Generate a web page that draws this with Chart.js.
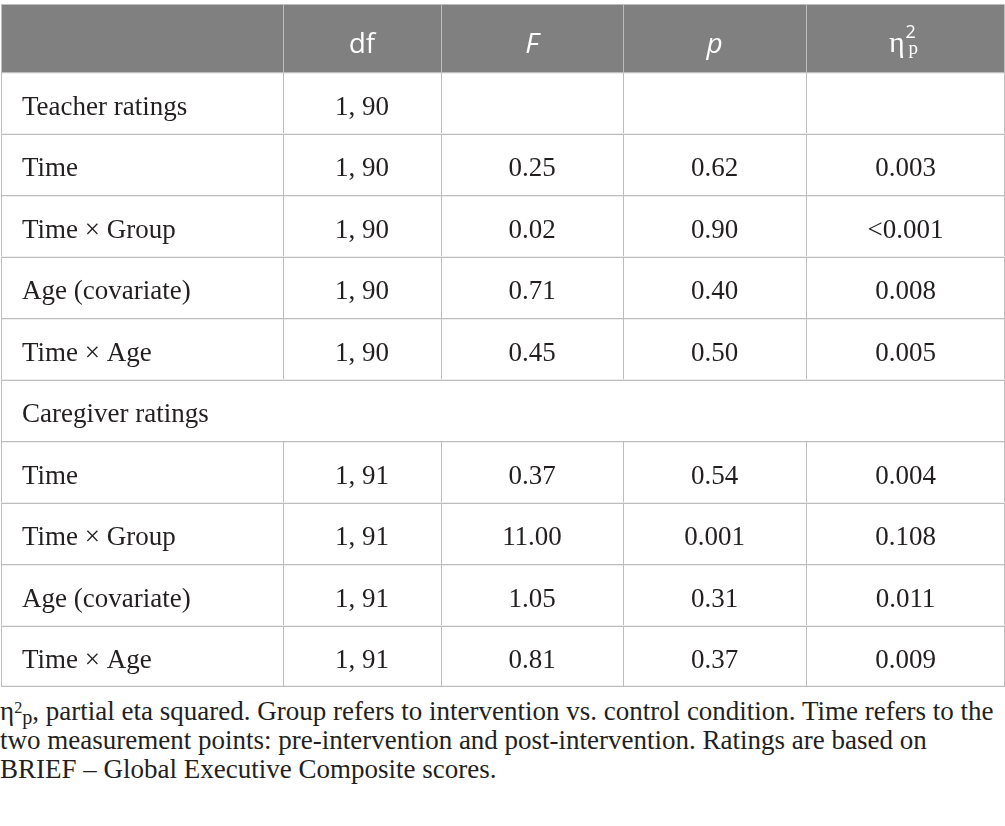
<!DOCTYPE html>
<html>
<head>
<meta charset="utf-8">
<script src="https://cdn.jsdelivr.net/npm/chart.js@4.4.1/dist/chart.umd.min.js"></script>
<style>
  html, body { margin: 0; padding: 0; background: #fff; }
  #wrap { position: relative; width: 1005px; height: 687px; }
  .note {
    font-family: "Liberation Serif", serif;
    font-size: 27px;
    line-height: 29px;
    color: #231f20;
    margin-top: 10px;
    white-space: nowrap;
  }
  .note .sup { position: relative; top: -0.45em; font-size: 0.6em; line-height: 0; }
  .note .sub { position: relative; top: 0.2em; font-size: 0.75em; line-height: 0; }
</style>
</head>
<body>
<div id="wrap"><canvas id="anovaTable"></canvas></div>
<div class="note">η<span class="sup">2</span><span class="sub">p</span>, partial eta squared. Group refers to intervention vs. control condition. Time refers to the<br>two measurement points: pre-intervention and post-intervention. Ratings are based on<br>BRIEF – Global Executive Composite scores.</div>
<script>
document.addEventListener("DOMContentLoaded", function () {

    // table content
    const headerLabels = ["", "df", "F", "p", "η²p"];
    const rowLabels = [
        "Teacher ratings", "Time", "Time × Group", "Age (covariate)", "Time × Age",
        "Caregiver ratings", "Time", "Time × Group", "Age (covariate)", "Time × Age"
    ];
    const dfValues = ["1, 90", "1, 90", "1, 90", "1, 90", "1, 90", null, "1, 91", "1, 91", "1, 91", "1, 91"];
    const fValues = [null, "0.25", "0.02", "0.71", "0.45", null, "0.37", "11.00", "1.05", "0.81"];
    const pValues = [null, "0.62", "0.90", "0.40", "0.50", null, "0.54", "0.001", "0.31", "0.37"];
    const etaValues = [null, "0.003", "<0.001", "0.008", "0.005", null, "0.004", "0.108", "0.011", "0.009"];

    const columns = [rowLabels, dfValues, fValues, pValues, etaValues];

    // layout: column edges on the x scale
    const colEdges = [0, 282, 440, 622, 805, 1004];
    const lastCol = columns.length - 1;
    const lastRow = rowLabels.length - 1;

    const lineColour = "#bdbdbd";
    const headerColour = "#808080";
    const textColour = "#231f20";
    const serif = "\"Liberation Serif\", serif";
    const sans = "\"Open Sans\", sans-serif";

    // a row with no df is a section heading spanning the whole table
    const isSection = i => dfValues[i] === null;

    const cellDefaults = {
        borderColor: lineColour,
        borderSkipped: false,
        inflateAmount: 0,
        barPercentage: 1,
        categoryPercentage: 1,
        grouped: false
    };

    const headerSets = headerLabels.map((label, c) => Object.assign({
        yAxisID: "yh",
        data: [[colEdges[c], colEdges[c + 1]]],
        cellText: [label],
        backgroundColor: headerColour,
        borderWidth: { top: 1, left: 1, right: c === lastCol ? 1 : 0, bottom: 0 }
    }, cellDefaults));

    const bodySets = columns.map((values, c) => Object.assign({
        yAxisID: "y",
        data: values.map((v, i) => {
            if (isSection(i)) {
                return c === 0 ? [colEdges[0], colEdges[lastCol + 1]] : null;
            }
            return [colEdges[c], colEdges[c + 1]];
        }),
        cellText: values,
        backgroundColor: "#ffffff",
        // rows sit on half pixels every other band, so a 1.5px rule keeps them even
        borderWidth: (ctx) => ({
            top: 1.5,
            left: 1,
            right: (c === lastCol || isSection(ctx.dataIndex)) ? 1 : 0,
            bottom: ctx.dataIndex === lastRow ? 1.5 : 0
        })
    }, cellDefaults));

    function drawEta(ctx, cx, baseY) {
        ctx.font = "30px " + serif;
        const wEta = ctx.measureText("η").width;
        ctx.font = "18px " + sans;
        const wTwo = ctx.measureText("2").width;
        ctx.font = "19px " + serif;
        const wP = ctx.measureText("p").width;
        const total = wEta + 1 + Math.max(wTwo, 3 + wP);
        let x = cx - total / 2 - 2;
        ctx.textAlign = "left";
        ctx.font = "30px " + serif;
        ctx.fillText("η", x, baseY - 1);
        x += wEta + 1;
        ctx.font = "18px " + sans;
        ctx.fillText("2", x, baseY - 15);
        ctx.font = "19px " + serif;
        ctx.fillText("p", x + 3, baseY + 1);
    }

    const cellTextPlugin = {
        id: "cellText",
        afterDatasetsDraw(chart) {
            const ctx = chart.ctx;
            ctx.save();
            ctx.textBaseline = "alphabetic";
            chart.data.datasets.forEach((ds, d) => {
                const meta = chart.getDatasetMeta(d);
                const isHeader = ds.yAxisID === "yh";
                meta.data.forEach((bar, i) => {
                    const text = ds.cellText[i];
                    if (text === null || text === undefined || text === "") return;
                    const left = Math.min(bar.x, bar.base);
                    const right = Math.max(bar.x, bar.base);
                    const cx = (left + right) / 2;
                    if (isHeader) {
                        ctx.fillStyle = "#ffffff";
                        const baseY = bar.y + 15;
                        if (text === "η²p") {
                            drawEta(ctx, cx, baseY);
                            return;
                        }
                        ctx.textAlign = "center";
                        ctx.font = (text === "F" || text === "p" ? "italic " : "") + "28px " + sans;
                        ctx.fillText(text, cx, baseY);
                    } else {
                        ctx.fillStyle = textColour;
                        ctx.font = "27px " + serif;
                        if (d === headerLabels.length) {
                            ctx.textAlign = "left";
                            ctx.fillText(text, left + 21, bar.y + 12);
                        } else {
                            ctx.textAlign = "center";
                            ctx.fillText(text, cx, bar.y + 12);
                        }
                    }
                });
            });
            ctx.restore();
        }
    };

    const tableCtx = document.getElementById("anovaTable").getContext("2d");

    new Chart(tableCtx, {
        type: "bar",
        data: {
            datasets: headerSets.concat(bodySets)
        },
        plugins: [cellTextPlugin],
        options: {
            indexAxis: "y",
            responsive: true,
            maintainAspectRatio: false,
            animation: false,
            events: [],
            layout: { padding: { top: 4, left: 1, right: 0, bottom: 0 } },
            plugins: {
                legend: { display: false },
                tooltip: { enabled: false }
            },
            scales: {
                x: {
                    type: "linear",
                    min: colEdges[0],
                    max: colEdges[colEdges.length - 1],
                    display: false
                },
                y: {
                    type: "category",
                    axis: "y",
                    labels: rowLabels,
                    offset: true,
                    position: "left",
                    display: false,
                    stack: "table",
                    stackWeight: 615
                },
                yh: {
                    type: "category",
                    axis: "y",
                    labels: ["header"],
                    offset: true,
                    position: "left",
                    display: false,
                    stack: "table",
                    stackWeight: 68
                }
            }
        }
    });
});
</script>
</body>
</html>
